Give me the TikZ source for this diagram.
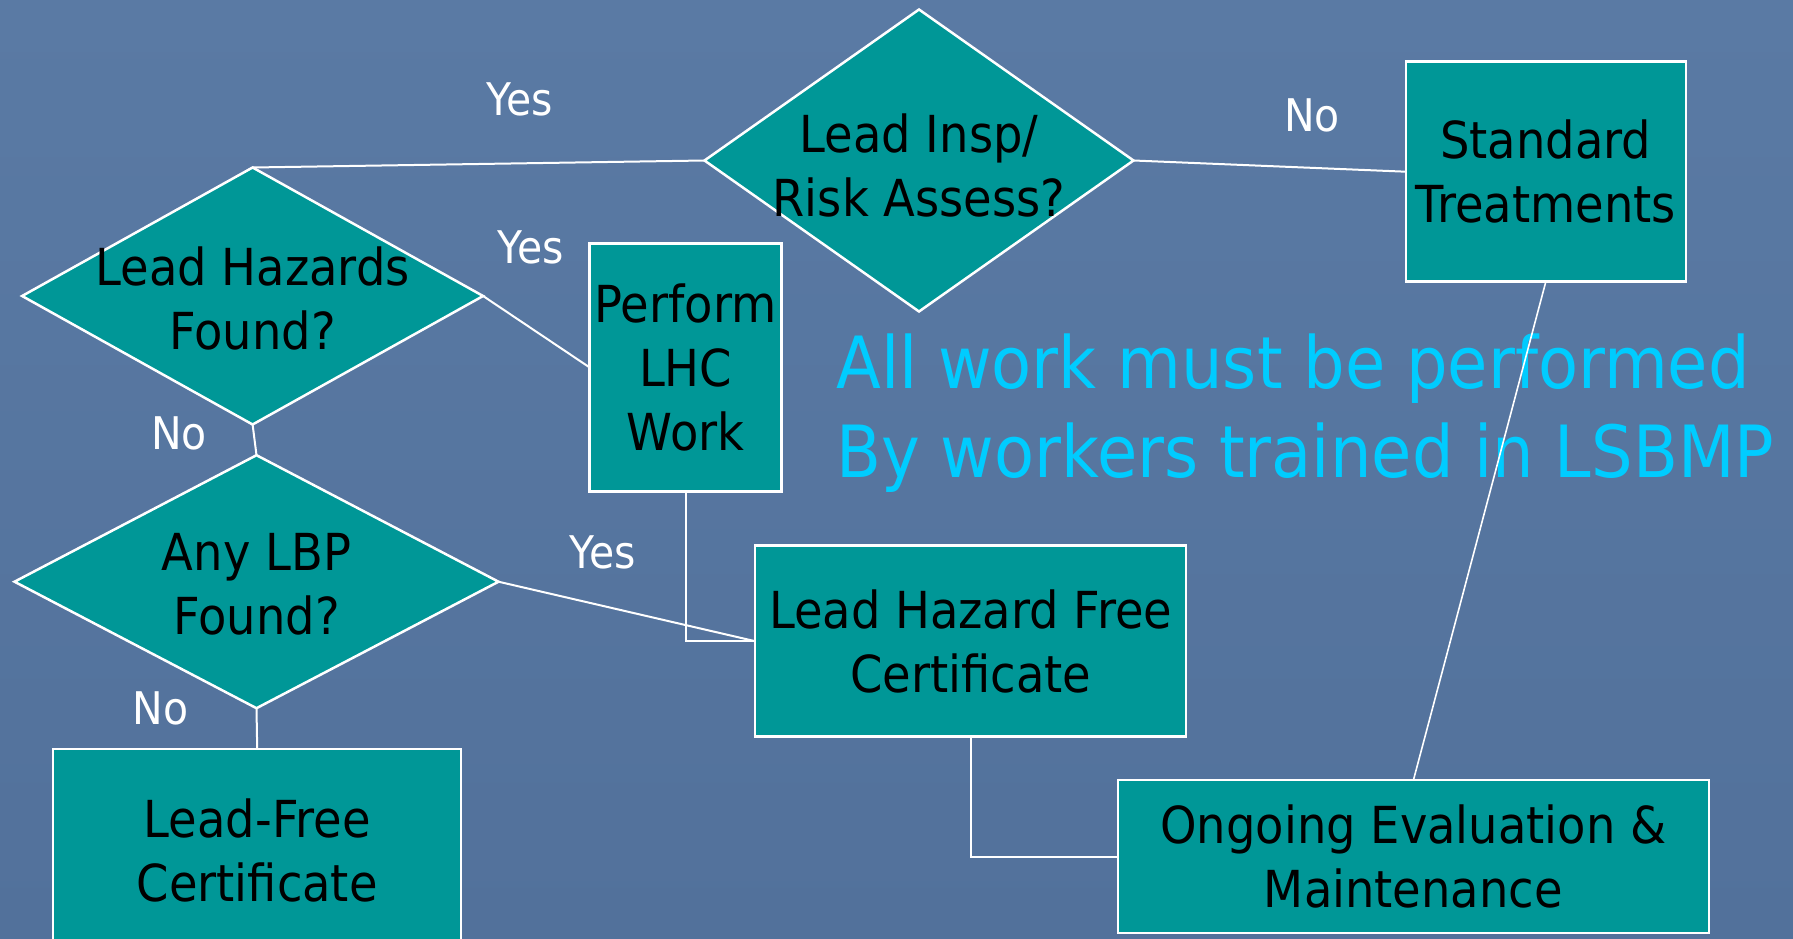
\documentclass[tikz,border=0pt]{standalone}
\usepackage{fontspec}
\setmainfont[FakeStretch=0.91]{DejaVu Sans}
\usetikzlibrary{shapes.geometric}
\definecolor{bgblue}{HTML}{5A7AA4}
\definecolor{bgdark}{HTML}{52719B}
\definecolor{boxteal}{HTML}{009797}
\definecolor{cyantext}{HTML}{00CCFF}
\begin{document}
\begin{tikzpicture}[x=1pt,y=-1pt,
  box/.style={draw=white, line width=2.5pt, fill=boxteal, inner sep=0pt, outer sep=0pt,
    align=center, font=\fontsize{51}{64}\selectfont, text=black},
  dia/.style={diamond, draw=white, line width=2.5pt, fill=boxteal, inner sep=0pt, outer sep=0pt},
  qtext/.style={align=center, font=\fontsize{51}{64}\selectfont, text=black, inner sep=0pt},
  ans/.style={text=white, font=\fontsize{45}{54}\selectfont, inner sep=0pt},
  link/.style={draw=white, line width=2pt}]
\useasboundingbox (0,0) rectangle (1793,939);
\clip (0,0) rectangle (1793,939);
\shade[top color=bgblue, bottom color=bgdark] (0,0) rectangle (1793,939);

% note text
\node[anchor=west, align=left, inner sep=0pt, text=cyantext,
  font=\fontsize{72}{89}\selectfont] (note) at (836,413)
  {All work must be performed\\By workers trained in LSBMP};

% decisions
\node[dia, minimum width=429pt, minimum height=302pt] (insp) at (919,160.5) {};
\node[qtext] (insptxt) at (919,165) {Lead Insp/\\Risk Assess?};
\node[dia, minimum width=461pt, minimum height=257pt] (lh) at (252.6,296) {};
\node[qtext] (lhtxt) at (252.6,298) {Lead Hazards\\Found?};
\node[dia, minimum width=484pt, minimum height=253pt] (lbp) at (256.5,581.7) {};
\node[qtext] (lbptxt) at (256.5,584) {Any LBP\\Found?};

% boxes
\node[box, minimum width=280pt, minimum height=220pt] (st) at (1545.8,171.7) {Standard\\Treatments};
\node[box, minimum width=192pt, minimum height=248pt] (perf) at (685.7,367.5) {Perform\\LHC\\Work};
\node[box, minimum width=431pt, minimum height=191pt] (lhf) at (970.7,641.2) {Lead Hazard Free\\Certificate};
\node[box, minimum width=408pt, minimum height=202pt, anchor=north] (lf) at (257.2,749) {Lead-Free\\Certificate};
\node[box, minimum width=591pt, minimum height=153pt] (og) at (1413.4,856.7) {Ongoing Evaluation \&\\Maintenance};

% connectors
\draw[link] (lh.north) -- (insp.west);
\draw[link] (insp.east) -- (st.west);
\draw[link] (lh.east) -- (perf.west);
\draw[link] (lh.south) -- (lbp.north);
\draw[link] (lbp.east) -- (lhf.west);
\draw[link] (perf.south) |- (lhf.west);
\draw[link] (lbp.south) -- (lf.north);
\draw[link] (lhf.south) |- (og.west);
\draw[link, line width=1.6pt] (st.south) -- (og.north);

% answer labels
\node[ans] (y1) at (519.5,99) {Yes};
\node[ans] (n1) at (1312,115) {No};
\node[ans] (y2) at (531,247) {Yes};
\node[ans] (n2) at (179,433) {No};
\node[ans] (y3) at (602.8,552) {Yes};
\node[ans] (n3) at (160.5,708) {No};
\end{tikzpicture}
\end{document}
